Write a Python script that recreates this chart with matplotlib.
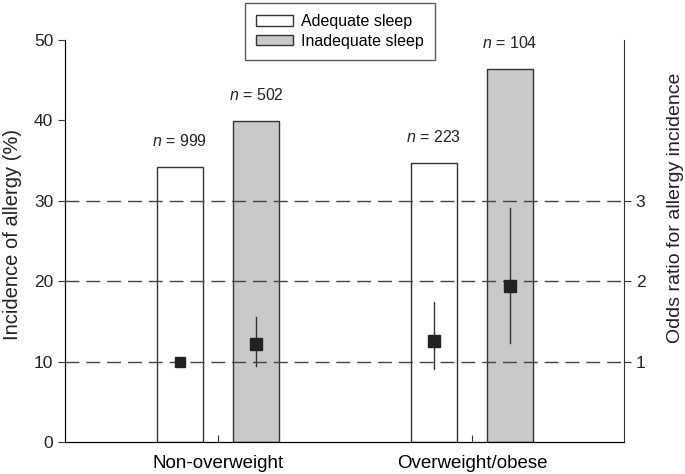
import matplotlib.pyplot as plt
from matplotlib.patches import Patch

plt.rcParams['font.family'] = ['Liberation Sans', 'DejaVu Sans']
plt.rcParams['mathtext.fontset'] = 'custom'
plt.rcParams['mathtext.it'] = 'Liberation Sans:italic'
plt.rcParams['mathtext.rm'] = 'Liberation Sans'

groups = ['Non-overweight', 'Overweight/obese']
adequate_pct = [34.2, 34.7]
inadequate_pct = [39.9, 46.4]
adequate_n = [999, 223]
inadequate_n = [502, 104]

# odds ratios with 95% CI (right axis)
adequate_or = [1.0, 1.26]
adequate_lo = [None, 0.91]
adequate_hi = [None, 1.74]
inadequate_or = [1.22, 1.94]
inadequate_lo = [0.94, 1.23]
inadequate_hi = [1.56, 2.91]

fig = plt.figure(figsize=(6.85, 4.74), dpi=100)
ax = fig.add_axes([0.095, 0.0675, 0.816, 0.848])
ax2 = ax.twinx()

xs = [1, 2]
off = 0.15
w = 0.18
x_a = [x - off for x in xs]
x_i = [x + off for x in xs]

ax.bar(x_a, adequate_pct, width=w, color='white', edgecolor='#333333', lw=1.0, zorder=2)
ax.bar(x_i, inadequate_pct, width=w, color='#c9c9c9', edgecolor='#333333', lw=1.0, zorder=2)

for x, h, n in zip(x_a, adequate_pct, adequate_n):
    ax.text(x, h + 2.3, '$n$ = %d' % n, ha='center', va='bottom', fontsize=11.5, color='#222222')
for x, h, n in zip(x_i, inadequate_pct, inadequate_n):
    ax.text(x, h + 2.3, '$n$ = %d' % n, ha='center', va='bottom', fontsize=11.5, color='#222222')

ax.set_xlim(0.398, 2.598)
ax.set_ylim(0, 50)
ax.set_yticks(range(0, 51, 10))
ax.set_xticks(xs)
ax.set_xticklabels(groups, fontsize=13.5)
ax.tick_params(axis='x', direction='in', length=5, pad=9, color='#333333')
ax.tick_params(axis='y', direction='out', length=5, labelsize=12.5, color='#333333', labelcolor='#222222')
ax.set_ylabel('Incidence of allergy (%)', fontsize=14.5, color='#222222')
ax.yaxis.set_label_coords(-0.077, 0.515)
ax.spines['top'].set_visible(False)
ax.spines['right'].set_visible(False)
for s in ['left', 'bottom']:
    ax.spines[s].set_color('#333333')

ax2.set_ylim(0, 5)
ax2.set_yticks([1, 2, 3])
ax2.tick_params(axis='y', direction='out', length=5, labelsize=12.5, color='#333333', labelcolor='#222222')
ax2.set_ylabel('Odds ratio for allergy incidence', fontsize=14, color='#222222')
ax2.yaxis.set_label_coords(1.077, 0.582)
ax2.spines['top'].set_visible(False)
ax2.spines['right'].set_color('#333333')
for v in [1, 2, 3]:
    ax2.axhline(v, color='#444444', lw=1.0, ls=(0, (10, 5)), zorder=1)

ms_a = [6.5, 8]
for x, o, lo, hi, m in zip(x_a, adequate_or, adequate_lo, adequate_hi, ms_a):
    if lo is not None:
        ax2.plot([x, x], [lo, hi], color='#333333', lw=1.0, zorder=3)
    ax2.plot(x, o, 's', color='#222222', ms=m, zorder=4)
for x, o, lo, hi in zip(x_i, inadequate_or, inadequate_lo, inadequate_hi):
    ax2.plot([x, x], [lo, hi], color='#333333', lw=1.0, zorder=3)
    ax2.plot(x, o, 's', color='#222222', ms=8.5, zorder=4)

handles = [Patch(facecolor='white', edgecolor='#333333', label='Adequate sleep'),
           Patch(facecolor='#c9c9c9', edgecolor='#333333', label='Inadequate sleep')]
leg = fig.legend(handles=handles, loc='upper left', bbox_to_anchor=(0.358, 0.994),
                 fontsize=11.5, frameon=True, fancybox=False, handlelength=2.3,
                 handleheight=0.63, borderpad=0.7, labelspacing=0.3, handletextpad=0.5,
                 borderaxespad=0)
leg.get_frame().set_edgecolor('#333333')
leg.get_frame().set_linewidth(1.0)

plt.savefig('out.png', dpi=100)
